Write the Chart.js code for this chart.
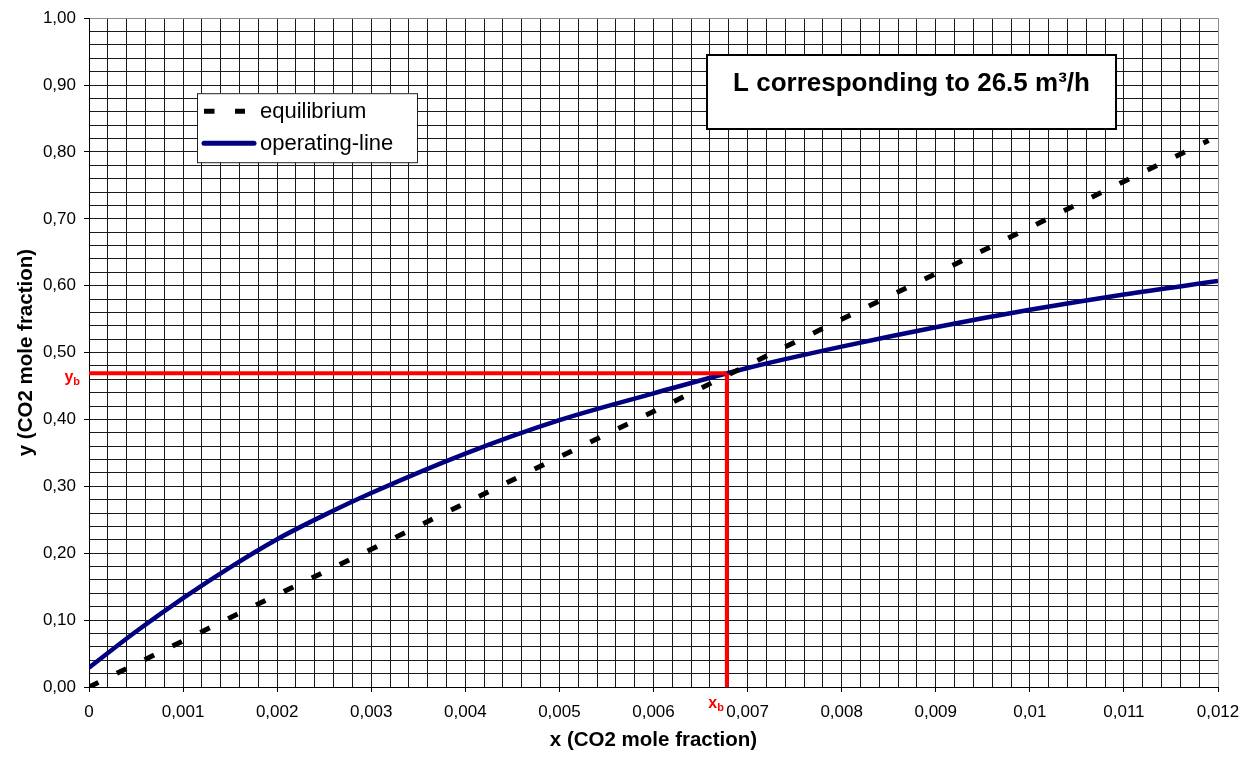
<!DOCTYPE html>
<html>
<head>
<meta charset="utf-8">
<title>Operating line</title>
<script src="https://cdn.jsdelivr.net/npm/chart.js@4.4.0/dist/chart.umd.min.js"></script>
<style>
  body { margin: 0; background: #fff; }
  #caja { width: 1251px; height: 761px; }
</style>
</head>
<body>
<div id="caja"><canvas id="myChart"></canvas></div>
<script>
// DATOS

// equilibrium
const eqX = [0, 0.001, 0.002, 0.003, 0.004, 0.005, 0.006, 0.007, 0.008, 0.009, 0.010, 0.011, 0.0119];
const eqY = [0, 0.069, 0.138, 0.206, 0.275, 0.344, 0.412, 0.481, 0.550, 0.618, 0.687, 0.756, 0.817];

// operating-line
const opX = [0, 0.0005, 0.001, 0.0015, 0.002, 0.0025, 0.003, 0.004, 0.005, 0.006, 0.007, 0.008, 0.009, 0.010, 0.011, 0.012];
const opY = [0.029, 0.083, 0.133, 0.179, 0.221, 0.257, 0.290, 0.349, 0.399, 0.439, 0.477, 0.509, 0.538, 0.564, 0.587, 0.607];

// punto xb / yb
const xb = 0.00678;
const yb = 0.469;

const xTickLabels = ['0', '0,001', '0,002', '0,003', '0,004', '0,005', '0,006', '0,007', '0,008', '0,009', '0,01', '0,011', '0,012'];
const yTickLabels = ['0,00', '0,10', '0,20', '0,30', '0,40', '0,50', '0,60', '0,70', '0,80', '0,90', '1,00'];

const titulo = 'L corresponding to 26.5 m³/h';

const FUENTE = '"Liberation Sans", Arial, sans-serif';
const toPoints = (xs, ys) => xs.map((x, i) => ({ x, y: ys[i] }));
const esMayor = (v, paso) => Math.abs(v / paso - Math.round(v / paso)) < 1e-6;

// texto con subindice (y_b, x_b)
function conSub(c, base, sub, right, baseline) {
    c.font = 'bold 16px ' + FUENTE;
    const w1 = c.measureText(base).width;
    c.font = 'bold 11px ' + FUENTE;
    const w2 = c.measureText(sub).width;
    const x0 = right - w1 - w2;
    c.textAlign = 'left';
    c.textBaseline = 'alphabetic';
    c.font = 'bold 16px ' + FUENTE;
    c.fillText(base, x0, baseline);
    c.font = 'bold 11px ' + FUENTE;
    c.fillText(sub, x0 + w1, baseline + 3);
}

// LEYENDA, TITULO Y ETIQUETAS
const cajas = {
    id: 'cajas',
    afterDraw(chart) {
        const c = chart.ctx;
        const area = chart.chartArea;
        const sx = chart.scales.x;
        const sy = chart.scales.y;
        c.save();

        c.fillStyle = '#ff0000';
        conSub(c, 'y', 'b', area.left - 9, sy.getPixelForValue(yb) + 9);
        conSub(c, 'x', 'b', sx.getPixelForValue(xb) - 3, area.bottom + 21);

        // leyenda
        const lx = area.left + 108, ly = area.top + 75, lw = 220, lh = 69;
        c.fillStyle = '#fff';
        c.fillRect(lx, ly, lw, lh);
        c.strokeStyle = '#222';
        c.lineWidth = 1;
        c.strokeRect(lx + 0.5, ly + 0.5, lw, lh);
        const items = chart.data.datasets.filter(d => d.label);
        items.forEach((d, i) => {
            const yy = ly + 18 + i * 32;
            c.beginPath();
            c.strokeStyle = d.borderColor;
            c.lineWidth = 5;
            c.setLineDash(d.borderDash || []);
            c.lineCap = d.borderDash ? 'butt' : 'round';
            c.moveTo(lx + 7, yy);
            c.lineTo(lx + (d.borderDash ? 48 : 57), yy);
            c.stroke();
            c.setLineDash([]);
            c.fillStyle = '#000';
            c.font = '22px ' + FUENTE;
            c.textAlign = 'left';
            c.textBaseline = 'middle';
            c.fillText(d.label, lx + 63, yy + 1);
        });

        // titulo
        const tx = 707, ty = 55, tw = 409, th = 74;
        c.fillStyle = '#fff';
        c.fillRect(tx, ty, tw, th);
        c.strokeStyle = '#000';
        c.lineWidth = 2;
        c.strokeRect(tx, ty, tw, th);
        c.fillStyle = '#000';
        c.font = 'bold 26px ' + FUENTE;
        c.textAlign = 'center';
        c.textBaseline = 'alphabetic';
        c.fillText(titulo, tx + tw / 2, ty + 36);

        c.restore();
    }
};

// GRAFICA
const ctx = document.getElementById('myChart');

const myChart = new Chart(ctx, {
    type: 'line',
    data: {
        datasets: [{
            label: 'equilibrium',
            data: toPoints(eqX, eqY),
            borderColor: '#000000',
            borderWidth: 5,
            borderDash: [10.5, 20.5],
            borderCapStyle: 'butt',
            pointRadius: 0,
            tension: 0,
            order: 1
        }, {
            label: 'operating-line',
            data: toPoints(opX, opY),
            borderColor: '#000080',
            borderWidth: 4.5,
            cubicInterpolationMode: 'monotone',
            pointRadius: 0,
            order: 2
        }, {
            data: [{ x: 0, y: yb }, { x: xb, y: yb }],
            borderColor: '#ff0000',
            borderWidth: 4,
            pointRadius: 0,
            order: 0
        }, {
            data: [{ x: xb, y: 0 }, { x: xb, y: yb }],
            borderColor: '#ff0000',
            borderWidth: 4,
            pointRadius: 0,
            order: 0
        }]
    },
    options: {
        responsive: true,
        maintainAspectRatio: false,
        animation: false,
        events: [],
        layout: { padding: { left: 10, top: 18, right: 33, bottom: 4 } },
        plugins: {
            legend: { display: false },
            tooltip: { enabled: false }
        },
        scales: {
            x: {
                type: 'linear',
                min: 0,
                max: 0.012,
                afterFit: s => { s.height = 70; },
                border: { color: '#000', width: 1 },
                grid: {
                    color: c => (c.tick && c.tick.value >= 0.012 - 1e-9) ? '#8c8c8c' : '#1a1a1a',
                    lineWidth: 1,
                    tickLength: 5,
                    tickColor: c => (c.tick && esMayor(c.tick.value, 0.001)) ? '#000' : 'rgba(0,0,0,0)'
                },
                ticks: {
                    stepSize: 0.0002,
                    autoSkip: false,
                    maxRotation: 0,
                    padding: 10,
                    color: '#000',
                    font: { family: FUENTE, size: 17 },
                    callback: v => esMayor(v, 0.001) ? xTickLabels[Math.round(v / 0.001)] : ''
                },
                title: {
                    display: true,
                    text: 'x (CO2 mole fraction)',
                    color: '#000',
                    font: { family: FUENTE, size: 20.5, weight: 'bold' }
                }
            },
            y: {
                type: 'linear',
                min: 0,
                max: 1,
                afterFit: s => { s.width = 79; },
                border: { color: '#000', width: 1 },
                grid: {
                    color: c => (c.tick && c.tick.value >= 1 - 1e-9) ? '#8c8c8c' : '#1a1a1a',
                    lineWidth: 1,
                    tickLength: 5,
                    tickColor: c => (c.tick && esMayor(c.tick.value, 0.1)) ? '#000' : 'rgba(0,0,0,0)'
                },
                ticks: {
                    stepSize: 0.02,
                    autoSkip: false,
                    padding: 8,
                    color: '#000',
                    font: { family: FUENTE, size: 17 },
                    callback: v => esMayor(v, 0.1) ? yTickLabels[Math.round(v / 0.1)] : ''
                },
                title: {
                    display: true,
                    text: 'y (CO2 mole fraction)',
                    color: '#000',
                    font: { family: FUENTE, size: 20.5, weight: 'bold' }
                }
            }
        }
    },
    plugins: [cajas]
});
</script>
</body>
</html>
